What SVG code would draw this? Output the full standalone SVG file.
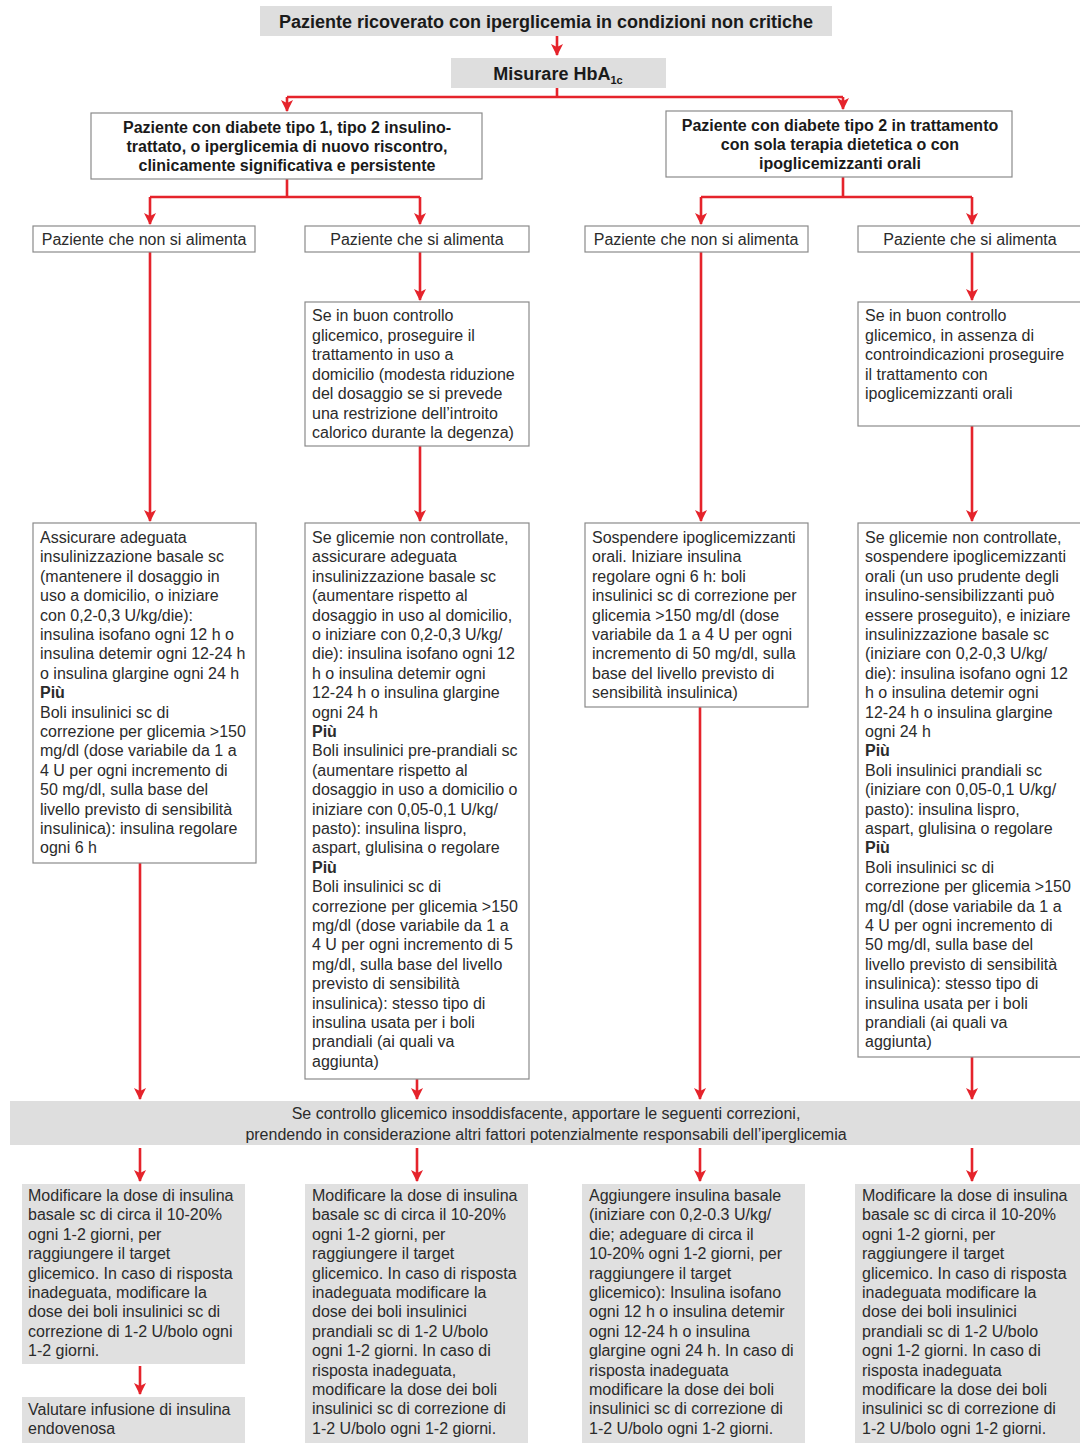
<svg xmlns="http://www.w3.org/2000/svg" width="1080" height="1443" viewBox="0 0 1080 1443">
<style>
.t{font-family:"Liberation Sans",Arial,sans-serif;font-size:16px;fill:#2b2b2b}
.b{font-family:"Liberation Sans",Arial,sans-serif;font-weight:bold;fill:#1a1a1a}
.box{fill:#ffffff;stroke:#8a8a8a;stroke-width:1.2}
.gray{fill:#dedede}
.gbox{fill:#e0e0e0}
.c{fill:none;stroke:#e5232b;stroke-width:2.6}
</style>
<defs>
<marker id="ah" markerUnits="userSpaceOnUse" markerWidth="14" markerHeight="14" refX="11" refY="7" orient="auto">
<path d="M0,1 L12,7 L0,13 L3,7 z" fill="#e5232b"/>
</marker>
</defs>
<rect width="1080" height="1443" fill="#ffffff"/>

<g id="connectors">
<path class="c" d="M557,36 V55" marker-end="url(#ah)"/>
<path class="c" d="M557,88 V97 M287,97 H843"/>
<path class="c" d="M287,97 V111" marker-end="url(#ah)"/>
<path class="c" d="M843,97 V109" marker-end="url(#ah)"/>
<path class="c" d="M287,179 V197 M150,197 H420"/>
<path class="c" d="M150,197 V224" marker-end="url(#ah)"/>
<path class="c" d="M420,197 V224" marker-end="url(#ah)"/>
<path class="c" d="M843,177 V197 M701,197 H972"/>
<path class="c" d="M701,197 V224" marker-end="url(#ah)"/>
<path class="c" d="M972,197 V224" marker-end="url(#ah)"/>
<path class="c" d="M150,252 V521" marker-end="url(#ah)"/>
<path class="c" d="M420,252 V300" marker-end="url(#ah)"/>
<path class="c" d="M420,446 V521" marker-end="url(#ah)"/>
<path class="c" d="M701,252 V521" marker-end="url(#ah)"/>
<path class="c" d="M972,252 V300" marker-end="url(#ah)"/>
<path class="c" d="M972,426 V521" marker-end="url(#ah)"/>
<path class="c" d="M140,863 V1099" marker-end="url(#ah)"/>
<path class="c" d="M417,1079 V1099" marker-end="url(#ah)"/>
<path class="c" d="M700,707 V1099" marker-end="url(#ah)"/>
<path class="c" d="M972,1057 V1099" marker-end="url(#ah)"/>
<path class="c" d="M140,1148 V1181" marker-end="url(#ah)"/>
<path class="c" d="M417,1148 V1181" marker-end="url(#ah)"/>
<path class="c" d="M700,1148 V1181" marker-end="url(#ah)"/>
<path class="c" d="M972,1148 V1181" marker-end="url(#ah)"/>
<path class="c" d="M140,1366 V1394" marker-end="url(#ah)"/>
</g>

<g id="n-title">
<rect class="gray" x="260" y="6" width="572" height="30"/>
<text class="b" x="546" y="28" font-size="18" text-anchor="middle">Paziente ricoverato con iperglicemia in condizioni non critiche</text>
</g>

<g id="n-hba1c">
<rect class="gray" x="451" y="58" width="215" height="30"/>
<text class="b" x="558" y="80" font-size="18" text-anchor="middle">Misurare HbA<tspan font-size="11" dy="4">1c</tspan></text>
</g>

<g id="n-left">
<rect class="box" x="91" y="113" width="391" height="66"/>
<text class="b" font-size="16" text-anchor="middle"><tspan x="287" y="133">Paziente con diabete tipo 1, tipo 2 insulino-</tspan><tspan x="287" y="152">trattato, o iperglicemia di nuovo riscontro,</tspan><tspan x="287" y="171">clinicamente significativa e persistente</tspan></text>
</g>

<g id="n-right">
<rect class="box" x="666" y="111" width="346" height="66"/>
<text class="b" font-size="16" text-anchor="middle"><tspan x="840" y="131">Paziente con diabete tipo 2 in trattamento</tspan><tspan x="840" y="150">con sola terapia dietetica o con</tspan><tspan x="840" y="169">ipoglicemizzanti orali</tspan></text>
</g>

<g id="n-a1">
<rect class="box" x="33" y="226" width="222" height="26"/>
<text class="t" x="144" y="245" text-anchor="middle">Paziente che non si alimenta</text>
</g>
<g id="n-b1">
<rect class="box" x="305" y="226" width="224" height="26"/>
<text class="t" x="417" y="245" text-anchor="middle">Paziente che si alimenta</text>
</g>
<g id="n-c1">
<rect class="box" x="585" y="226" width="223" height="26"/>
<text class="t" x="696" y="245" text-anchor="middle">Paziente che non si alimenta</text>
</g>
<g id="n-d1">
<rect class="box" x="858" y="226" width="224" height="26"/>
<text class="t" x="970" y="245" text-anchor="middle">Paziente che si alimenta</text>
</g>

<g id="n-b2">
<rect class="box" x="305" y="302" width="224" height="144"/>
<text class="t"><tspan x="312" y="321">Se in buon controllo</tspan><tspan x="312" y="340.5">glicemico, proseguire il</tspan><tspan x="312" y="360">trattamento in uso a</tspan><tspan x="312" y="379.5">domicilio (modesta riduzione</tspan><tspan x="312" y="399">del dosaggio se si prevede</tspan><tspan x="312" y="418.5">una restrizione dell’introito</tspan><tspan x="312" y="438">calorico durante la degenza)</tspan></text>
</g>

<g id="n-d2">
<rect class="box" x="858" y="302" width="224" height="124"/>
<text class="t"><tspan x="865" y="321">Se in buon controllo</tspan><tspan x="865" y="340.5">glicemico, in assenza di</tspan><tspan x="865" y="360">controindicazioni proseguire</tspan><tspan x="865" y="379.5">il trattamento con</tspan><tspan x="865" y="399">ipoglicemizzanti orali</tspan></text>
</g>

<g id="n-a3">
<rect class="box" x="33" y="523" width="223" height="340"/>
<text class="t"><tspan x="40" y="543">Assicurare adeguata</tspan><tspan x="40" y="562.4">insulinizzazione basale sc</tspan><tspan x="40" y="581.8">(mantenere il dosaggio in</tspan><tspan x="40" y="601.2">uso a domicilio, o iniziare</tspan><tspan x="40" y="620.6">con 0,2-0,3 U/kg/die):</tspan><tspan x="40" y="640">insulina isofano ogni 12 h o</tspan><tspan x="40" y="659.4">insulina detemir ogni 12-24 h</tspan><tspan x="40" y="678.8">o insulina glargine ogni 24 h</tspan><tspan x="40" y="698.2" font-weight="bold">Più</tspan><tspan x="40" y="717.6">Boli insulinici sc di</tspan><tspan x="40" y="737">correzione per glicemia &gt;150</tspan><tspan x="40" y="756.4">mg/dl (dose variabile da 1 a</tspan><tspan x="40" y="775.8">4 U per ogni incremento di</tspan><tspan x="40" y="795.2">50 mg/dl, sulla base del</tspan><tspan x="40" y="814.6">livello previsto di sensibilità</tspan><tspan x="40" y="834">insulinica): insulina regolare</tspan><tspan x="40" y="853.4">ogni 6 h</tspan></text>
</g>

<g id="n-b3">
<rect class="box" x="305" y="523" width="224" height="556"/>
<text class="t"><tspan x="312" y="543">Se glicemie non controllate,</tspan><tspan x="312" y="562.4">assicurare adeguata</tspan><tspan x="312" y="581.8">insulinizzazione basale sc</tspan><tspan x="312" y="601.2">(aumentare rispetto al</tspan><tspan x="312" y="620.6">dosaggio in uso al domicilio,</tspan><tspan x="312" y="640">o iniziare con 0,2-0,3 U/kg/</tspan><tspan x="312" y="659.4">die): insulina isofano ogni 12</tspan><tspan x="312" y="678.8">h o insulina detemir ogni</tspan><tspan x="312" y="698.2">12-24 h o insulina glargine</tspan><tspan x="312" y="717.6">ogni 24 h</tspan><tspan x="312" y="737" font-weight="bold">Più</tspan><tspan x="312" y="756.4">Boli insulinici pre-prandiali sc</tspan><tspan x="312" y="775.8">(aumentare rispetto al</tspan><tspan x="312" y="795.2">dosaggio in uso a domicilio o</tspan><tspan x="312" y="814.6">iniziare con 0,05-0,1 U/kg/</tspan><tspan x="312" y="834">pasto): insulina lispro,</tspan><tspan x="312" y="853.4">aspart, glulisina o regolare</tspan><tspan x="312" y="872.8" font-weight="bold">Più</tspan><tspan x="312" y="892.2">Boli insulinici sc di</tspan><tspan x="312" y="911.6">correzione per glicemia &gt;150</tspan><tspan x="312" y="931">mg/dl (dose variabile da 1 a</tspan><tspan x="312" y="950.4">4 U per ogni incremento di 5</tspan><tspan x="312" y="969.8">mg/dl, sulla base del livello</tspan><tspan x="312" y="989.2">previsto di sensibilità</tspan><tspan x="312" y="1008.6">insulinica): stesso tipo di</tspan><tspan x="312" y="1028">insulina usata per i boli</tspan><tspan x="312" y="1047.4">prandiali (ai quali va</tspan><tspan x="312" y="1066.8">aggiunta)</tspan></text>
</g>

<g id="n-c3">
<rect class="box" x="585" y="523" width="223" height="184"/>
<text class="t"><tspan x="592" y="543">Sospendere ipoglicemizzanti</tspan><tspan x="592" y="562.4">orali. Iniziare insulina</tspan><tspan x="592" y="581.8">regolare ogni 6 h: boli</tspan><tspan x="592" y="601.2">insulinici sc di correzione per</tspan><tspan x="592" y="620.6">glicemia &gt;150 mg/dl (dose</tspan><tspan x="592" y="640">variabile da 1 a 4 U per ogni</tspan><tspan x="592" y="659.4">incremento di 50 mg/dl, sulla</tspan><tspan x="592" y="678.8">base del livello previsto di</tspan><tspan x="592" y="698.2">sensibilità insulinica)</tspan></text>
</g>

<g id="n-d3">
<rect class="box" x="858" y="523" width="224" height="534"/>
<text class="t"><tspan x="865" y="543">Se glicemie non controllate,</tspan><tspan x="865" y="562.4">sospendere ipoglicemizzanti</tspan><tspan x="865" y="581.8">orali (un uso prudente degli</tspan><tspan x="865" y="601.2">insulino-sensibilizzanti può</tspan><tspan x="865" y="620.6">essere proseguito), e iniziare</tspan><tspan x="865" y="640">insulinizzazione basale sc</tspan><tspan x="865" y="659.4">(iniziare con 0,2-0,3 U/kg/</tspan><tspan x="865" y="678.8">die): insulina isofano ogni 12</tspan><tspan x="865" y="698.2">h o insulina detemir ogni</tspan><tspan x="865" y="717.6">12-24 h o insulina glargine</tspan><tspan x="865" y="737">ogni 24 h</tspan><tspan x="865" y="756.4" font-weight="bold">Più</tspan><tspan x="865" y="775.8">Boli insulinici prandiali sc</tspan><tspan x="865" y="795.2">(iniziare con 0,05-0,1 U/kg/</tspan><tspan x="865" y="814.6">pasto): insulina lispro,</tspan><tspan x="865" y="834">aspart, glulisina o regolare</tspan><tspan x="865" y="853.4" font-weight="bold">Più</tspan><tspan x="865" y="872.8">Boli insulinici sc di</tspan><tspan x="865" y="892.2">correzione per glicemia &gt;150</tspan><tspan x="865" y="911.6">mg/dl (dose variabile da 1 a</tspan><tspan x="865" y="931">4 U per ogni incremento di</tspan><tspan x="865" y="950.4">50 mg/dl, sulla base del</tspan><tspan x="865" y="969.8">livello previsto di sensibilità</tspan><tspan x="865" y="989.2">insulinica): stesso tipo di</tspan><tspan x="865" y="1008.6">insulina usata per i boli</tspan><tspan x="865" y="1028">prandiali (ai quali va</tspan><tspan x="865" y="1047.4">aggiunta)</tspan></text>
</g>

<g id="n-bar">
<rect class="gray" x="10" y="1101" width="1070" height="44"/>
<text class="t" text-anchor="middle" font-size="15.6"><tspan x="546" y="1119">Se controllo glicemico insoddisfacente, apportare le seguenti correzioni,</tspan><tspan x="546" y="1140">prendendo in considerazione altri fattori potenzialmente responsabili dell’iperglicemia</tspan></text>
</g>

<g id="n-e1">
<rect class="gbox" x="22" y="1184" width="223" height="180"/>
<text class="t"><tspan x="28" y="1201">Modificare la dose di insulina</tspan><tspan x="28" y="1220.4">basale sc di circa il 10-20%</tspan><tspan x="28" y="1239.8">ogni 1-2 giorni, per</tspan><tspan x="28" y="1259.2">raggiungere il target</tspan><tspan x="28" y="1278.6">glicemico. In caso di risposta</tspan><tspan x="28" y="1298">inadeguata, modificare la</tspan><tspan x="28" y="1317.4">dose dei boli insulinici sc di</tspan><tspan x="28" y="1336.8">correzione di 1-2 U/bolo ogni</tspan><tspan x="28" y="1356.2">1-2 giorni.</tspan></text>
</g>

<g id="n-e2">
<rect class="gbox" x="22" y="1397" width="223" height="46"/>
<text class="t"><tspan x="28" y="1415">Valutare infusione di insulina</tspan><tspan x="28" y="1434.4">endovenosa</tspan></text>
</g>

<g id="n-f">
<rect class="gbox" x="305" y="1184" width="223" height="259"/>
<text class="t"><tspan x="312" y="1201">Modificare la dose di insulina</tspan><tspan x="312" y="1220.4">basale sc di circa il 10-20%</tspan><tspan x="312" y="1239.8">ogni 1-2 giorni, per</tspan><tspan x="312" y="1259.2">raggiungere il target</tspan><tspan x="312" y="1278.6">glicemico. In caso di risposta</tspan><tspan x="312" y="1298">inadeguata modificare la</tspan><tspan x="312" y="1317.4">dose dei boli insulinici</tspan><tspan x="312" y="1336.8">prandiali sc di 1-2 U/bolo</tspan><tspan x="312" y="1356.2">ogni 1-2 giorni. In caso di</tspan><tspan x="312" y="1375.6">risposta inadeguata,</tspan><tspan x="312" y="1395">modificare la dose dei boli</tspan><tspan x="312" y="1414.4">insulinici sc di correzione di</tspan><tspan x="312" y="1433.8">1-2 U/bolo ogni 1-2 giorni.</tspan></text>
</g>

<g id="n-g">
<rect class="gbox" x="582" y="1184" width="223" height="259"/>
<text class="t"><tspan x="589" y="1201">Aggiungere insulina basale</tspan><tspan x="589" y="1220.4">(iniziare con 0,2-0.3 U/kg/</tspan><tspan x="589" y="1239.8">die; adeguare di circa il</tspan><tspan x="589" y="1259.2">10-20% ogni 1-2 giorni, per</tspan><tspan x="589" y="1278.6">raggiungere il target</tspan><tspan x="589" y="1298">glicemico): Insulina isofano</tspan><tspan x="589" y="1317.4">ogni 12 h o insulina detemir</tspan><tspan x="589" y="1336.8">ogni 12-24 h o insulina</tspan><tspan x="589" y="1356.2">glargine ogni 24 h. In caso di</tspan><tspan x="589" y="1375.6">risposta inadeguata</tspan><tspan x="589" y="1395">modificare la dose dei boli</tspan><tspan x="589" y="1414.4">insulinici sc di correzione di</tspan><tspan x="589" y="1433.8">1-2 U/bolo ogni 1-2 giorni.</tspan></text>
</g>

<g id="n-h">
<rect class="gbox" x="855" y="1184" width="225" height="259"/>
<text class="t"><tspan x="862" y="1201">Modificare la dose di insulina</tspan><tspan x="862" y="1220.4">basale sc di circa il 10-20%</tspan><tspan x="862" y="1239.8">ogni 1-2 giorni, per</tspan><tspan x="862" y="1259.2">raggiungere il target</tspan><tspan x="862" y="1278.6">glicemico. In caso di risposta</tspan><tspan x="862" y="1298">inadeguata modificare la</tspan><tspan x="862" y="1317.4">dose dei boli insulinici</tspan><tspan x="862" y="1336.8">prandiali sc di 1-2 U/bolo</tspan><tspan x="862" y="1356.2">ogni 1-2 giorni. In caso di</tspan><tspan x="862" y="1375.6">risposta inadeguata</tspan><tspan x="862" y="1395">modificare la dose dei boli</tspan><tspan x="862" y="1414.4">insulinici sc di correzione di</tspan><tspan x="862" y="1433.8">1-2 U/bolo ogni 1-2 giorni.</tspan></text>
</g>
</svg>
